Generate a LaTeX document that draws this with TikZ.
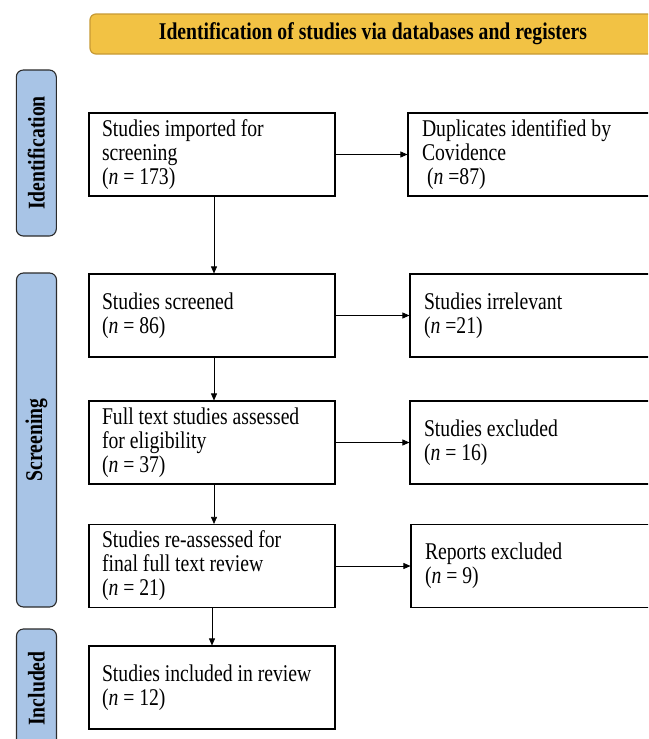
\documentclass[tikz,border=0pt]{standalone}
\usepackage{fontspec}
\setmainfont{Liberation Serif}[FakeStretch=0.82]
\usetikzlibrary{arrows.meta}
\definecolor{hdrfill}{HTML}{F2C244}
\definecolor{hdrdraw}{HTML}{C79A34}
\definecolor{sidefill}{HTML}{A8C4E6}
\definecolor{sidedraw}{HTML}{2B2B2B}
\begin{document}
\begin{tikzpicture}[x=1pt,y=-1pt,
  box/.style={draw,line width=1.1pt,rectangle,minimum height=83pt,text width=220pt,inner xsep=13pt,align=flush left,font=\fontsize{24}{24}\selectfont},
  rbox/.style={box,text width=232pt,inner xsep=14pt},
  side/.style={draw=sidedraw,fill=sidefill,line width=1.1pt,rounded corners=7pt,rotate=90,minimum height=40pt,inner sep=0pt,font=\bfseries\fontsize{24}{24}\selectfont},
  hdr/.style={draw=hdrdraw,fill=hdrfill,line width=1.2pt,rounded corners=6pt,minimum width=566pt,minimum height=40pt,font=\bfseries\fontsize{24}{24}\selectfont},
  arr/.style={-{Triangle[length=7pt,width=6pt]},line width=0.7pt}]
\useasboundingbox (0,0) rectangle (648,739);
\clip (0,0) rectangle (648,739);
\fill[white] (0,0) rectangle (648,739);

\node[hdr] (hdr) at (373,34) {Identification of studies via databases and registers};

\node[side,minimum width=166pt] (s1) at (36.3,153) {Identification};
\node[side,minimum width=334pt] (s2) at (36.5,440) {Screening};
\node[side,minimum width=119pt] (s3) at (36.5,688.5) {Included};

\node[box] (b1) at (212,154.5) {Studies imported for\\screening\\(\textit{n} = 173)};
\node[rbox] (b2) at (538,154.5) {Duplicates identified by\\Covidence\\\hspace*{5pt}(\textit{n} =87)};
\node[box] (b3) at (212,315.5) {Studies screened\\(\textit{n} = 86)};
\node[rbox] (b4) at (540,315.5) {Studies irrelevant\\(\textit{n} =21)};
\node[box] (b5) at (212,442.5) {Full text studies assessed\\for eligibility\\(\textit{n} = 37)};
\node[rbox] (b6) at (540,442.5) {Studies excluded\\(\textit{n} = 16)};
\node[box] (b7) at (212,566) {Studies re-assessed for\\final full text review\\(\textit{n} = 21)};
\node[rbox] (b8) at (541,566) {Reports excluded\\(\textit{n} = 9)};
\node[box] (b9) at (212,687.5) {Studies included in review\\(\textit{n} = 12)};

\draw[arr] (b1.east) -- (b2.west);
\draw[arr] (b3.east) -- (b4.west);
\draw[arr] (b5.east) -- (b6.west);
\draw[arr] (b7.east) -- (b8.west);
\draw[arr] ([xshift=2pt]b1.south) -- ([xshift=2pt]b3.north);
\draw[arr] ([xshift=2pt]b3.south) -- ([xshift=2pt]b5.north);
\draw[arr] ([xshift=2pt]b5.south) -- ([xshift=2pt]b7.north);
\draw[arr] (b7.south) -- (b9.north);
\end{tikzpicture}
\end{document}
